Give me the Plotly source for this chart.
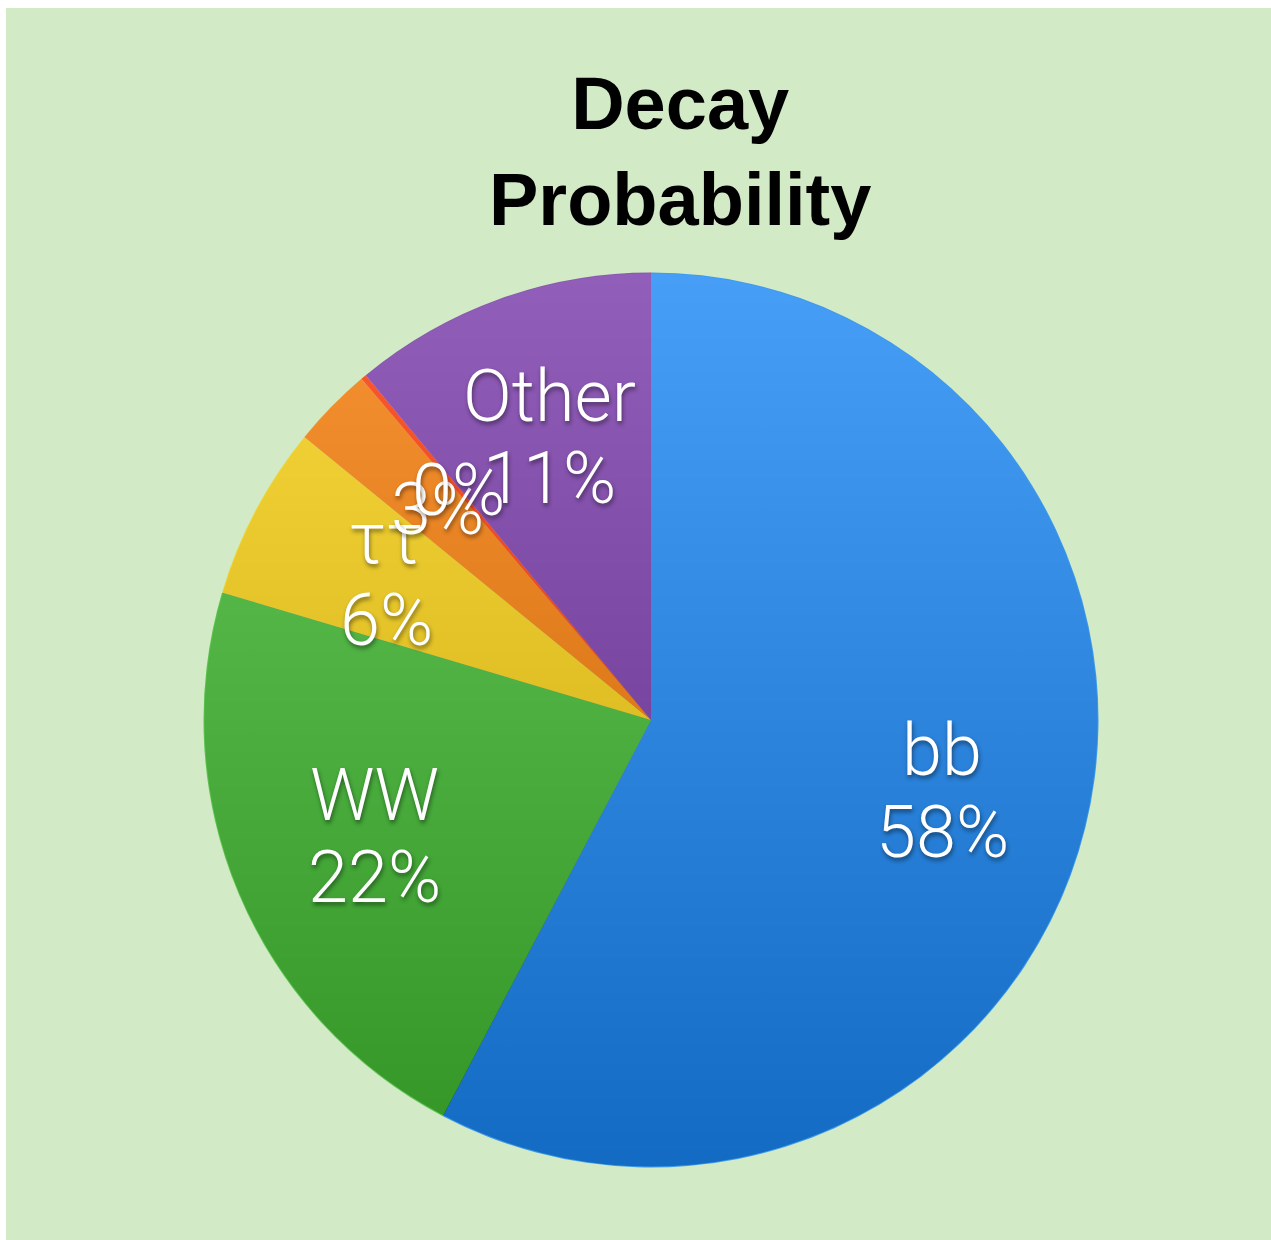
import base64
import math

import plotly.graph_objects as go

# Higgs boson decay channels and their branching fractions (%)
channels = ["bb", "WW", "ττ", "cc", "γγ", "Other"]
branching = [57.7, 21.9, 6.3, 2.9, 0.2, 11.0]
# channels whose name is printed above the percentage
named_channels = {"bb", "WW", "ττ", "Other"}

# slice base colours (laid semi-transparently over a light-to-dark shading disc)
slice_colors = [
    "rgba(24,134,244,0.8)",
    "rgba(62,186,48,0.8)",
    "rgba(246,206,12,0.8)",
    "rgba(246,120,0,0.8)",
    "rgba(255,50,0,0.8)",
    "rgba(118,54,168,0.8)",
]

W, H = 1271, 1240
BG = "#D2EAC6"

# pie placement in pixels (margins are zero, so paper == page)
cx, cy, r = 651.0, 720.0, 447.5
dom_x = [(cx - r) / W, (cx + r) / W]
dom_y = [1 - (cy + r) / H, 1 - (cy - r) / H]

fig = go.Figure(
    go.Pie(
        labels=channels,
        values=branching,
        sort=False,
        direction="clockwise",
        rotation=0,
        marker=dict(colors=slice_colors, line=dict(width=0)),
        textinfo="none",
        hoverinfo="label+percent",
        showlegend=False,
        domain=dict(x=dom_x, y=dom_y),
    )
)

# vertical shading disc under the pie, giving each slice a top-to-bottom gradient
svg = (
    '<svg xmlns="http://www.w3.org/2000/svg" viewBox="0 0 100 100">'
    '<defs><linearGradient id="g" x1="0" y1="0" x2="0" y2="1">'
    '<stop offset="0" stop-color="#ffffff"/>'
    '<stop offset="1" stop-color="#000000"/>'
    "</linearGradient></defs>"
    '<circle cx="50" cy="50" r="49.9" fill="url(#g)"/></svg>'
)
shade_src = "data:image/svg+xml;base64," + base64.b64encode(svg.encode()).decode()
fig.add_layout_image(
    source=shade_src,
    xref="paper",
    yref="paper",
    x=dom_x[0],
    y=dom_y[1],
    sizex=dom_x[1] - dom_x[0],
    sizey=dom_y[1] - dom_y[0],
    xanchor="left",
    yanchor="top",
    sizing="stretch",
    layer="below",
)

# slice labels, placed along each slice's bisector at two thirds of the radius
total = sum(branching)
label_font = dict(
    family="Roboto, Helvetica Neue, Arial, sans-serif",
    size=72,
    color="white",
    weight=300,
    shadow="1px 3px 4px rgba(0,0,0,0.45)",
)
LINE_GAP = 41  # half the distance between the name line and the percentage line


def put_label(text, x_px, y_px):
    fig.add_annotation(
        x=x_px / W,
        y=1 - y_px / H,
        xref="paper",
        yref="paper",
        text=text,
        showarrow=False,
        xanchor="center",
        yanchor="middle",
        font=label_font,
    )


cum = 0.0
for name, val in zip(channels, branching):
    theta = math.radians(360.0 * (cum + val / 2) / total)
    cum += val
    pct = f"{round(100 * val / total):.0f}%"
    lx = cx + 0.67 * r * math.sin(theta)
    ly = cy - 0.67 * r * math.cos(theta)
    if name in named_channels:
        put_label(name, lx, ly - LINE_GAP)
        put_label(pct, lx, ly + LINE_GAP)
    else:
        put_label(pct, lx, ly)

# chart title
fig.add_annotation(
    x=680 / W,
    y=1 - 152 / H,
    xref="paper",
    yref="paper",
    text="<b>Decay<br>Probability</b>",
    showarrow=False,
    xanchor="center",
    yanchor="middle",
    font=dict(family="Liberation Sans, Arial, sans-serif", size=74, color="black"),
)

# thin white page edge on the left and top
fig.add_shape(type="rect", xref="paper", yref="paper", x0=0, x1=6 / W, y0=0, y1=1,
              fillcolor="white", line=dict(width=0), layer="above")
fig.add_shape(type="rect", xref="paper", yref="paper", x0=0, x1=1, y0=1 - 8 / H, y1=1,
              fillcolor="white", line=dict(width=0), layer="above")

fig.update_layout(
    width=W,
    height=H,
    margin=dict(l=0, r=0, t=0, b=0),
    paper_bgcolor=BG,
    plot_bgcolor=BG,
)

fig.write_html("out.html")
